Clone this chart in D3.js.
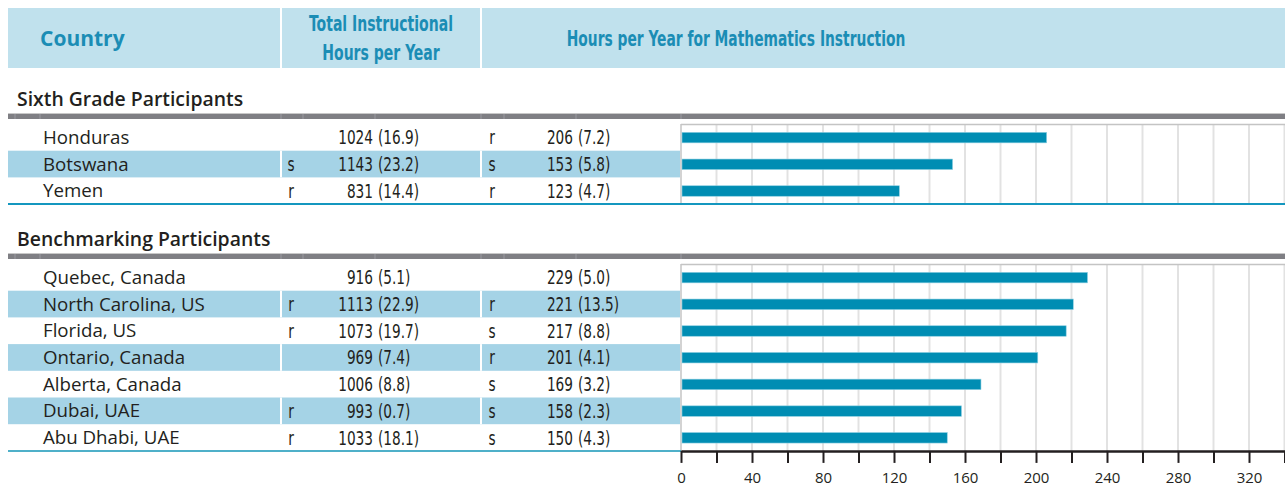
<!DOCTYPE html>
<html><head><meta charset="utf-8">
<script src="https://cdn.jsdelivr.net/npm/d3@7"></script>
<style>body{margin:0;background:#fff}svg{display:block}</style>
</head><body>
<svg id="c" width="1285" height="489"></svg>
<script>
// ---- data ----
const sixthCountries = ["Honduras","Botswana","Yemen"];
const sixthTotalFlag = ["","s","r"];
const sixthTotal = [1024,1143,831];
const sixthTotalSE = [16.9,23.2,14.4];
const sixthMathFlag = ["r","s","r"];
const sixthMath = [206,153,123];
const sixthMathSE = [7.2,5.8,4.7];

const benchCountries = ["Quebec, Canada","North Carolina, US","Florida, US","Ontario, Canada","Alberta, Canada","Dubai, UAE","Abu Dhabi, UAE"];
const benchTotalFlag = ["","r","r","","","r","r"];
const benchTotal = [916,1113,1073,969,1006,993,1033];
const benchTotalSE = [5.1,22.9,19.7,7.4,8.8,0.7,18.1];
const benchMathFlag = ["","r","s","r","s","s","s"];
const benchMath = [229,221,217,201,169,158,150];
const benchMathSE = [5.0,13.5,8.8,4.1,3.2,2.3,4.3];

const axisMax = 340;
const tickStep = 20;
const labelStep = 40;
const headers = {country:"Country", total:["Total Instructional","Hours per Year"], math:"Hours per Year for Mathematics Instruction"};
const sectionTitles = ["Sixth Grade Participants","Benchmarking Participants"];

// ---- styles ----
const W = 1285;
const teal = "#1b8db5", band = "#c0e1ed", hi = "#a5d3e6", barC = "#008db3", gray = "#7f7f84";
const narrow = "'Liberation Sans Narrow','DejaVu Sans Condensed',sans-serif";
const sans = "'Open Sans',sans-serif";
const L = 8, colDiv1 = 281, colDiv2 = 481, chartL = 681;
const SX = 0.76; // horizontal condensing for narrow texts

const svg = d3.select("#c");
const x = d3.scaleLinear().domain([0, axisMax]).range([chartL, 1284.5]);
const ticks = d3.range(0, axisMax + 1, tickStep);

// header
svg.append("rect").attr("x",L).attr("y",8).attr("width",W-L).attr("height",60).attr("fill",band);
[colDiv1,colDiv2].forEach(d=>svg.append("rect").attr("x",d-1).attr("y",8).attr("width",2).attr("height",60).attr("fill","#fff"));
svg.append("text").attr("x",40).attr("y",46).text(headers.country)
  .attr("font-family",sans).attr("font-weight",700).attr("font-size",21).attr("fill",teal);
headers.total.forEach((t,i)=>svg.append("text").attr("transform",`translate(381,${30.5+i*29}) scale(0.75,1)`).attr("text-anchor","middle").text(t)
  .attr("font-family",narrow).attr("font-weight",700).attr("font-size",20.8).attr("fill",teal));
svg.append("text").attr("transform","translate(736,45.5) scale(0.74,1)").attr("text-anchor","middle").text(headers.math)
  .attr("font-family",narrow).attr("font-weight",700).attr("font-size",20.8).attr("fill",teal);

function section(title, titleY, barY, top, countries, tFlag, total, tSE, mFlag, math, mSE, last){
  const rows = countries.map((c,i)=>({c, tf:tFlag[i], t:total[i], ts:tSE[i], mf:mFlag[i], m:math[i], ms:mSE[i], i}));
  const y = d3.scaleBand().domain(countries).range([top, top + 26.7*countries.length]);
  const bottom = top + 26.7*countries.length;
  const g = svg.append("g");
  g.append("text").attr("x",17).attr("y",titleY).text(title)
    .attr("font-family",sans).attr("font-weight",600).attr("font-size",19.4).attr("fill","#231f20");
  g.append("rect").attr("x",L).attr("y",barY).attr("width",W-L).attr("height",5).attr("fill",gray);
  g.append("line").attr("x1",L).attr("x2",W).attr("y1",barY-0.5).attr("y2",barY-0.5).attr("stroke","#c8c8c8");
  [15,40,chartL].concat([colDiv1,303,375,colDiv2,504,576]).forEach(d=>
    g.append("line").attr("x1",d).attr("x2",d).attr("y1",barY).attr("y2",barY+5).attr("stroke","#9a9aa0").attr("stroke-width",1));
  // highlight bands
  rows.filter(r=>r.i%2===1).forEach(r=>{
    g.append("rect").attr("x",L).attr("y",y(r.c)).attr("width",chartL-1-L).attr("height",y.bandwidth()).attr("fill",hi);
    [colDiv1,colDiv2].forEach(d=>g.append("rect").attr("x",d-1).attr("y",y(r.c)).attr("width",2).attr("height",y.bandwidth()).attr("fill","#fff"));
  });
  // chart frame + grid
  g.append("rect").attr("x",chartL).attr("y",top).attr("width",W-chartL).attr("height",bottom-top).attr("fill","#fff");
  g.selectAll(".grid").data(ticks.slice(1)).join("line").attr("x1",d=>x(d)).attr("x2",d=>x(d))
    .attr("y1",top).attr("y2",bottom).attr("stroke","#e2e2e2").attr("stroke-width",2);
  g.append("line").attr("x1",chartL).attr("x2",W).attr("y1",top+0.5).attr("y2",top+0.5).attr("stroke","#c4c4c4").attr("stroke-width",1.5);
  g.append("line").attr("x1",chartL).attr("x2",chartL).attr("y1",top).attr("y2",bottom).attr("stroke","#c4c4c4").attr("stroke-width",1.5);
  // bars
  g.selectAll(".bar").data(rows).join("rect")
    .attr("x",x(0)+1).attr("y",d=>y(d.c)+y.bandwidth()/2-5.5+0.5).attr("height",10.5)
    .attr("width",d=>x(d.m)-x(0)-1).attr("fill",barC).attr("stroke","#8fd0e2").attr("stroke-width",0.6);
  // texts
  const ty = d=>y(d.c)+y.bandwidth()/2+6.5;
  g.selectAll(".cn").data(rows).join("text").attr("x",43).attr("y",ty).text(d=>d.c)
    .attr("font-family",sans).attr("font-size",18.7).attr("fill","#231f20");
  const num = (xx, anchor, f)=> g.selectAll(null).data(rows).join("text")
    .attr("transform",d=>`translate(${xx},${ty(d)+0.5}) scale(${SX},1)`)
    .attr("text-anchor",anchor).text(f).attr("font-family",narrow).attr("font-size",20).attr("fill","#231f20");
  num(291,"middle",d=>d.tf);
  num(373,"end",d=>d.t);
  num(378,"start",d=>"("+d.ts.toFixed(1)+")");
  num(492,"middle",d=>d.mf);
  num(573,"end",d=>d.m);
  num(578,"start",d=>"("+d.ms.toFixed(1)+")");
  // bottom line
  if(!last){
    g.append("line").attr("x1",L).attr("x2",W).attr("y1",bottom).attr("y2",bottom).attr("stroke","#1497bf").attr("stroke-width",2);
  } else {
    g.append("line").attr("x1",L).attr("x2",chartL).attr("y1",bottom).attr("y2",bottom).attr("stroke","#4fb0c9").attr("stroke-width",2);
    const ax = svg.append("g").attr("transform",`translate(0,${bottom})`)
      .call(d3.axisBottom(x).tickValues(ticks).tickSize(12).tickSizeOuter(0).tickPadding(9)
        .tickFormat(d=> d % labelStep === 0 && d < axisMax ? d : ""));
    ax.select(".domain").attr("stroke","#231f20").attr("stroke-width",2.5);
    ax.selectAll(".tick line").attr("stroke","#231f20").attr("stroke-width",2);
    ax.selectAll(".tick text").attr("font-family",sans).attr("font-size",15).attr("fill","#231f20");
  }
}
section(sectionTitles[0],106,114,124,sixthCountries,sixthTotalFlag,sixthTotal,sixthTotalSE,sixthMathFlag,sixthMath,sixthMathSE,false);
section(sectionTitles[1],246,254,264,benchCountries,benchTotalFlag,benchTotal,benchTotalSE,benchMathFlag,benchMath,benchMathSE,true);
</script>
</body></html>
